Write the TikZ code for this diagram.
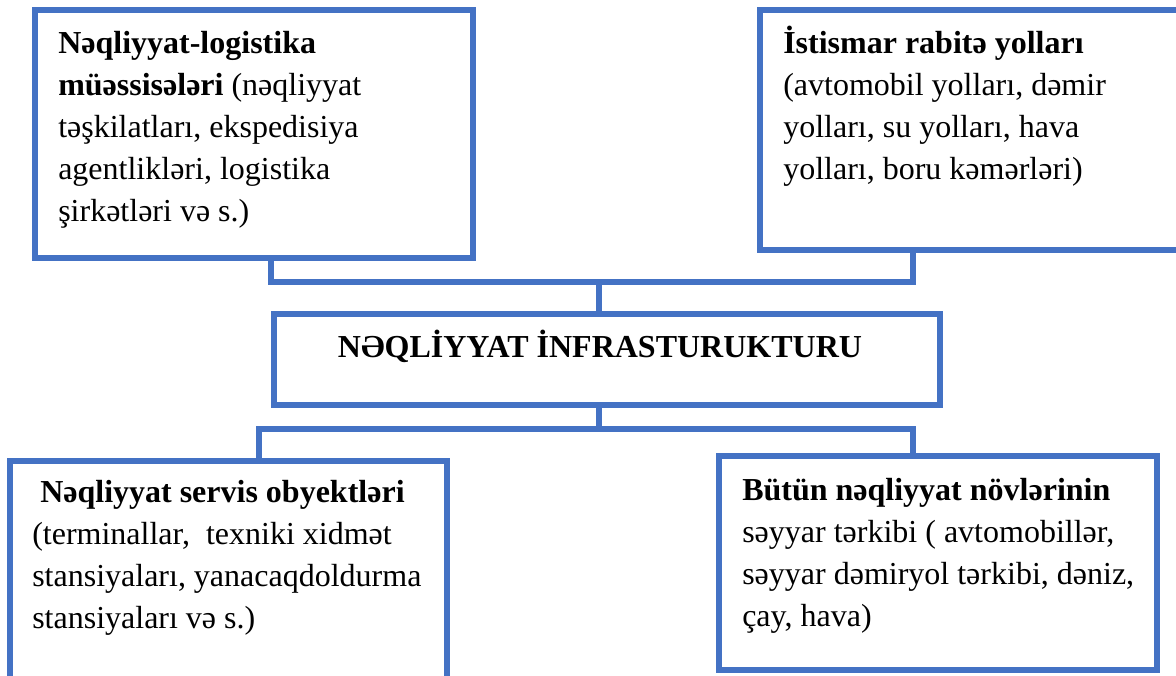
\documentclass[tikz,border=0pt]{standalone}
\usepackage{fontspec}
\setmainfont{Liberation Serif}
\usetikzlibrary{positioning, calc, fit}
\definecolor{boxblue}{RGB}{68,114,196}

\begin{document}
\begin{tikzpicture}[
    x=0.75pt, y=-0.75pt,
    box/.style={draw=boxblue, line width=4.5pt, inner sep=0pt},
    txt/.style={anchor=north west, inner sep=0pt, text width=330pt, align=flush left,
                font=\fontsize{24}{31.5}\selectfont},
    link/.style={draw=boxblue, line width=4.5pt}
]
\useasboundingbox (0,0) rectangle (1176,675);

% Riquadri superiori
\node[box, fit={(35,10) (473,258)}] (tl) {};
\node[box, fit={(760,10) (1182,250)}] (tr) {};
\node[txt] (tltext) at (58,23.6) {\strut\textbf{Nəqliyyat-logistika}\\ \textbf{müəssisələri} (nəqliyyat\\ təşkilatları, ekspedisiya\\ agentlikləri, logistika\\ şirkətləri və s.)};
\node[txt] (trtext) at (783,23.6) {\strut\textbf{İstismar rabitə yolları}\\ (avtomobil yolları, dəmir\\ yolları, su yolları, hava\\ yolları, boru kəmərləri)};

% Riquadro centrale
\node[box, fit={(274,314) (940,405)}] (hub) {};
\node[anchor=base, inner sep=0pt, font=\fontsize{24}{31.5}\selectfont\bfseries] (hubtext) at (600,357) {NƏQLİYYAT İNFRASTURUKTURU};

% Riquadri inferiori
\node[box, fit={(10,461) (447,682)}] (bl) {};
\node[box, fit={(719,456) (1157,670)}] (br) {};
\node[txt] (bltext) at (32,472.6) {\strut\hspace*{0.25em}\textbf{Nəqliyyat servis obyektləri}\\ (terminallar,\ \ texniki xidmət\\ stansiyaları, yanacaqdoldurma\\ stansiyaları və s.)};
\node[txt] (brtext) at (742,470.6) {\strut\textbf{Bütün nəqliyyat növlərinin}\\ səyyar tərkibi ( avtomobillər,\\ səyyar dəmiryol tərkibi, dəniz,\\ çay, hava)};

% Collegamenti
\coordinate (topjoin) at (599,282);
\coordinate (botjoin) at (599,429);
\draw[link] ($(tl.south west)+(239,0)$) |- (topjoin) -| ($(tr.south west)+(156,0)$);
\draw[link] (hub.north -| topjoin) -- (topjoin);
\draw[link] (hub.south -| botjoin) -- (botjoin);
\draw[link] ($(bl.north west)+(252,0)$) |- (botjoin) -| ($(br.north west)+(197,0)$);

\end{tikzpicture}
\end{document}
